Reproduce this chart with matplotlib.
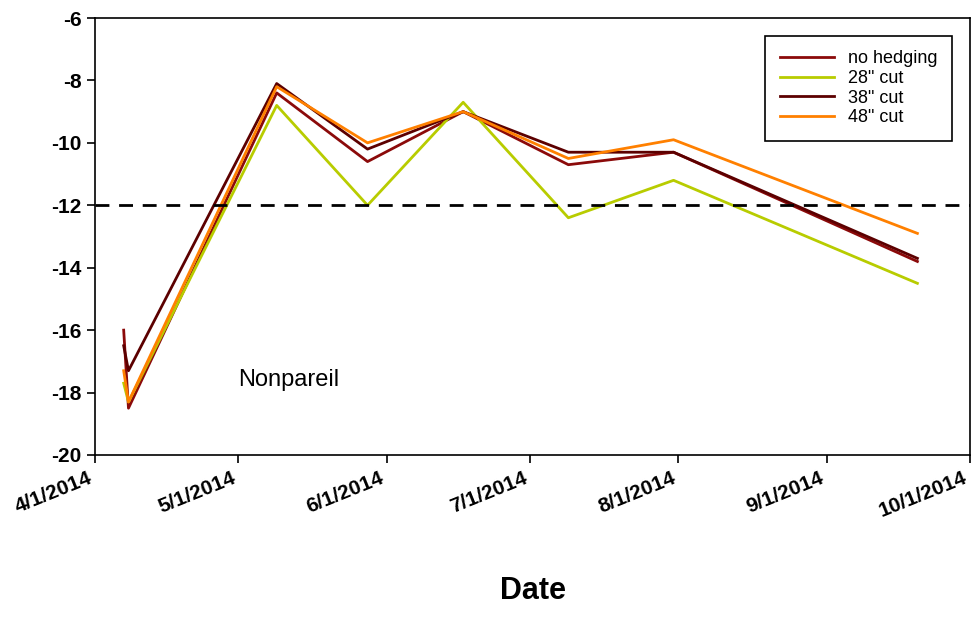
import datetime as dt
import matplotlib
matplotlib.use("Agg")
import matplotlib.pyplot as plt
import matplotlib.dates as mdates

plt.rcParams["font.family"] = ["Liberation Sans", "DejaVu Sans"]
plt.rcParams["axes.unicode_minus"] = False

dates = [dt.date(2014, 4, 7), dt.date(2014, 4, 8), dt.date(2014, 5, 9), dt.date(2014, 5, 28),
         dt.date(2014, 6, 17), dt.date(2014, 7, 9), dt.date(2014, 7, 31), dt.date(2014, 9, 20)]
no_hedging = [-16.0, -18.5, -8.4, -10.6, -9.0, -10.7, -10.3, -13.8]
cut28 = [-17.7, -18.3, -8.8, -12.0, -8.7, -12.4, -11.2, -14.5]
cut38 = [-16.5, -17.3, -8.1, -10.2, -9.0, -10.3, -10.3, -13.7]
cut48 = [-17.3, -18.3, -8.2, -10.0, -9.0, -10.5, -9.9, -12.9]
threshold = -12

fig = plt.figure(figsize=(9.76, 6.19), dpi=100)
ax = fig.add_axes([95 / 976, 1 - 455 / 619, 875 / 976, 437 / 619])

ax.plot(dates, no_hedging, color="#8b0a0a", lw=2, label="no hedging")
ax.plot(dates, cut28, color="#b8cc00", lw=2, label='28" cut')
ax.plot(dates, cut38, color="#5c0000", lw=2, label='38" cut')
ax.plot(dates, cut48, color="#ff8000", lw=2, label='48" cut')
ax.axhline(threshold, color="black", lw=2, ls=(0, (5, 3.5)))

ax.set_xlim(dt.date(2014, 4, 1), dt.date(2014, 10, 1))
ax.set_ylim(-20, -6)
ax.set_yticks(range(-20, -5, 2))
ax.xaxis.set_major_locator(mdates.MonthLocator())
ax.xaxis.set_major_formatter(mdates.DateFormatter("%-m/%-d/%Y"))
for lbl in ax.get_xticklabels():
    lbl.set_rotation(22)
    lbl.set_ha("right")
    lbl.set_fontweight("bold")
    lbl.set_fontsize(15)
for lbl in ax.get_yticklabels():
    lbl.set_fontweight("bold")
    lbl.set_fontsize(15)
ax.tick_params(direction="out", length=6, width=1.2)
for s in ax.spines.values():
    s.set_linewidth(1.2)

ax.text(dt.date(2014, 5, 1), -17.8, "Nonpareil", fontsize=17)
ax.set_xlabel("Date", fontsize=22, fontweight="bold", labelpad=40)

leg = ax.legend(loc="upper right", fontsize=13, fancybox=False, framealpha=1,
                edgecolor="black", handlelength=3, borderpad=0.8, labelspacing=0.15,
                bbox_to_anchor=(0.99, 0.98))
leg.get_frame().set_linewidth(1.2)

fig.savefig("out.png", dpi=100)
